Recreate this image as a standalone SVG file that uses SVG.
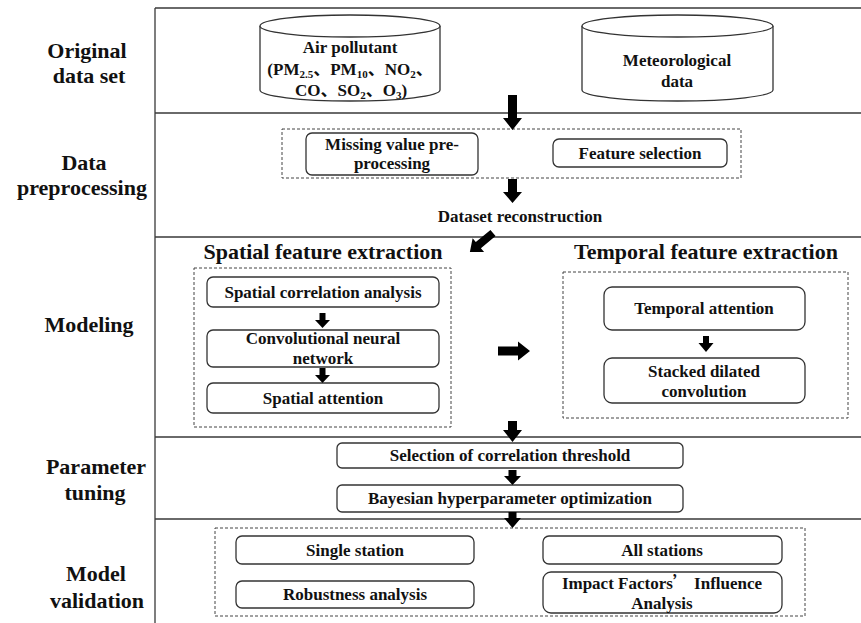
<svg xmlns="http://www.w3.org/2000/svg" width="861" height="623" viewBox="0 0 861 623">
<style>
.frame{stroke:#3a3a3a;stroke-width:1.3;fill:none}
.box{fill:#fff;stroke:#333;stroke-width:1.3}
.dash{fill:none;stroke:#444;stroke-width:1;stroke-dasharray:3,2}
.t{font-family:'Liberation Serif','Times New Roman','DejaVu Serif','Noto Sans CJK SC',serif;font-weight:bold;font-size:17px;fill:#111;text-anchor:middle}
.lab{font-family:'Liberation Serif','Times New Roman','DejaVu Serif',serif;font-weight:bold;font-size:22px;fill:#111;text-anchor:middle}
.head{font-family:'Liberation Serif','Times New Roman','DejaVu Serif',serif;font-weight:bold;font-size:22px;fill:#111;text-anchor:middle}
.arr{fill:#000}
.sub{font-size:11px}
</style>
<rect width="861" height="623" fill="#fff"/>
<g id="frame">
<path class="frame" d="M155,8 H861 M155,113 H861 M155,237 H861 M155,437 H861 M155,519 H861 M155,8 V623"/>
</g>
<g id="labels">
<text class="lab" x="87" y="58">Original</text>
<text class="lab" x="89" y="83">data set</text>
<text class="lab" x="84" y="170">Data</text>
<text class="lab" x="82" y="195">preprocessing</text>
<text class="lab" x="89" y="332">Modeling</text>
<text class="lab" x="96" y="474">Parameter</text>
<text class="lab" x="95" y="500">tuning</text>
<text class="lab" x="96" y="581">Model</text>
<text class="lab" x="97" y="608">validation</text>
</g>
<g id="air">
<path class="box" d="M260,26 V90 A90,11 0 0 0 440,90 V26"/>
<ellipse class="box" cx="350" cy="26" rx="90" ry="11"/>
<text class="t" x="350" y="53">Air pollutant</text>
<text class="t" x="350" y="75">(PM<tspan class="sub" dy="3">2.5</tspan><tspan dy="-3">、PM</tspan><tspan class="sub" dy="3">10</tspan><tspan dy="-3">、NO</tspan><tspan class="sub" dy="3">2</tspan><tspan dy="-3">、</tspan></text>
<text class="t" x="351" y="96">CO、SO<tspan class="sub" dy="3">2</tspan><tspan dy="-3">、O</tspan><tspan class="sub" dy="3">3</tspan><tspan dy="-3">)</tspan></text>
</g>
<g id="meteo">
<path class="box" d="M582,26 V90 A95.5,11 0 0 0 773,90 V26"/>
<ellipse class="box" cx="677.5" cy="26" rx="95.5" ry="11"/>
<text class="t" x="677" y="66">Meteorological</text>
<text class="t" x="677" y="87">data</text>
</g>
<g id="preproc">
<rect class="dash" x="282" y="129" width="459" height="49"/>
</g>
<g id="missing">
<rect class="box" x="306" y="133" width="172" height="42" rx="6"/>
<text class="t" x="392" y="150">Missing value pre-</text>
<text class="t" x="392" y="169">processing</text>
</g>
<g id="featsel">
<rect class="box" x="553" y="139" width="174" height="28" rx="6"/>
<text class="t" x="640" y="159">Feature selection</text>
</g>
<g id="dataset">
<text class="t" x="520" y="222">Dataset reconstruction</text>
</g>
<g id="spatial">
<text class="head" x="323" y="259">Spatial feature extraction</text>
<rect class="dash" x="194" y="268" width="257" height="159"/>
</g>
<g id="sca">
<rect class="box" x="207" y="277" width="232" height="30" rx="6"/>
<text class="t" x="323" y="298">Spatial correlation analysis</text>
</g>
<g id="cnn">
<rect class="box" x="207" y="330" width="232" height="37" rx="6"/>
<text class="t" x="323" y="344">Convolutional neural</text>
<text class="t" x="323" y="364">network</text>
</g>
<g id="satt">
<rect class="box" x="207" y="383" width="232" height="30" rx="6"/>
<text class="t" x="323" y="404">Spatial attention</text>
</g>
<g id="temporal">
<text class="head" x="706" y="259">Temporal feature extraction</text>
<rect class="dash" x="563" y="272" width="285" height="146"/>
</g>
<g id="tatt">
<rect class="box" x="604" y="287" width="201" height="43" rx="8"/>
<text class="t" x="704" y="314">Temporal attention</text>
</g>
<g id="sdc">
<rect class="box" x="604" y="358" width="201" height="45" rx="8"/>
<text class="t" x="704" y="377">Stacked dilated</text>
<text class="t" x="704" y="397">convolution</text>
</g>
<g id="sel">
<rect class="box" x="337" y="443" width="346" height="25" rx="5"/>
<text class="t" x="510" y="461">Selection of correlation threshold</text>
</g>
<g id="bayes">
<rect class="box" x="337" y="485" width="346" height="27" rx="5"/>
<text class="t" x="510" y="504">Bayesian hyperparameter optimization</text>
</g>
<g id="validation">
<rect class="dash" x="215" y="528" width="590" height="88"/>
</g>
<g id="single">
<rect class="box" x="236" y="536" width="238" height="28" rx="6"/>
<text class="t" x="355" y="556">Single station</text>
</g>
<g id="robust">
<rect class="box" x="236" y="581" width="238" height="27" rx="6"/>
<text class="t" x="355" y="600">Robustness analysis</text>
</g>
<g id="all">
<rect class="box" x="543" y="536" width="239" height="28" rx="6"/>
<text class="t" x="662" y="556">All stations</text>
</g>
<g id="impact">
<rect class="box" x="543" y="572" width="239" height="41" rx="8"/>
<text class="t" x="662" y="589">Impact Factors<tspan font-family="Noto Sans CJK SC">’</tspan> Influence</text>
<text class="t" x="662" y="609">Analysis</text>
</g>
<g id="connectors">
<path class="arr" d="M508,95 H517 V118 H522 L512.5,130 L503,118 H508 Z"/>
<path class="arr" d="M508,179 H517 V192 H522 L512.5,203 L503,192 H508 Z"/>
<path class="arr" transform="translate(493,233) rotate(140.4)" d="M0,-4 H19 V-9 L30,0 L19,9 V4 H0 Z"/>
<path class="arr" d="M498,346.5 H518 V341.5 L530,351 L518,360.5 V355.5 H498 Z"/>
<path class="arr" d="M319.5,313 H325.5 V320 H330 L322.5,328 L315,320 H319.5 Z"/>
<path class="arr" d="M319.5,368 H325.5 V375 H330 L322.5,383 L315,375 H319.5 Z"/>
<path class="arr" d="M703,336 H709 V343 H713.5 L706,352 L698.5,343 H703 Z"/>
<path class="arr" d="M508,421 H517 V430 H522 L512.5,442 L503,430 H508 Z"/>
<path class="arr" d="M508.5,470 H516.5 V476 H521 L512.5,485 L504,476 H508.5 Z"/>
<path class="arr" d="M508.5,512 H516.5 V518 H521 L512.5,528 L504,518 H508.5 Z"/>
</g>
</svg>
